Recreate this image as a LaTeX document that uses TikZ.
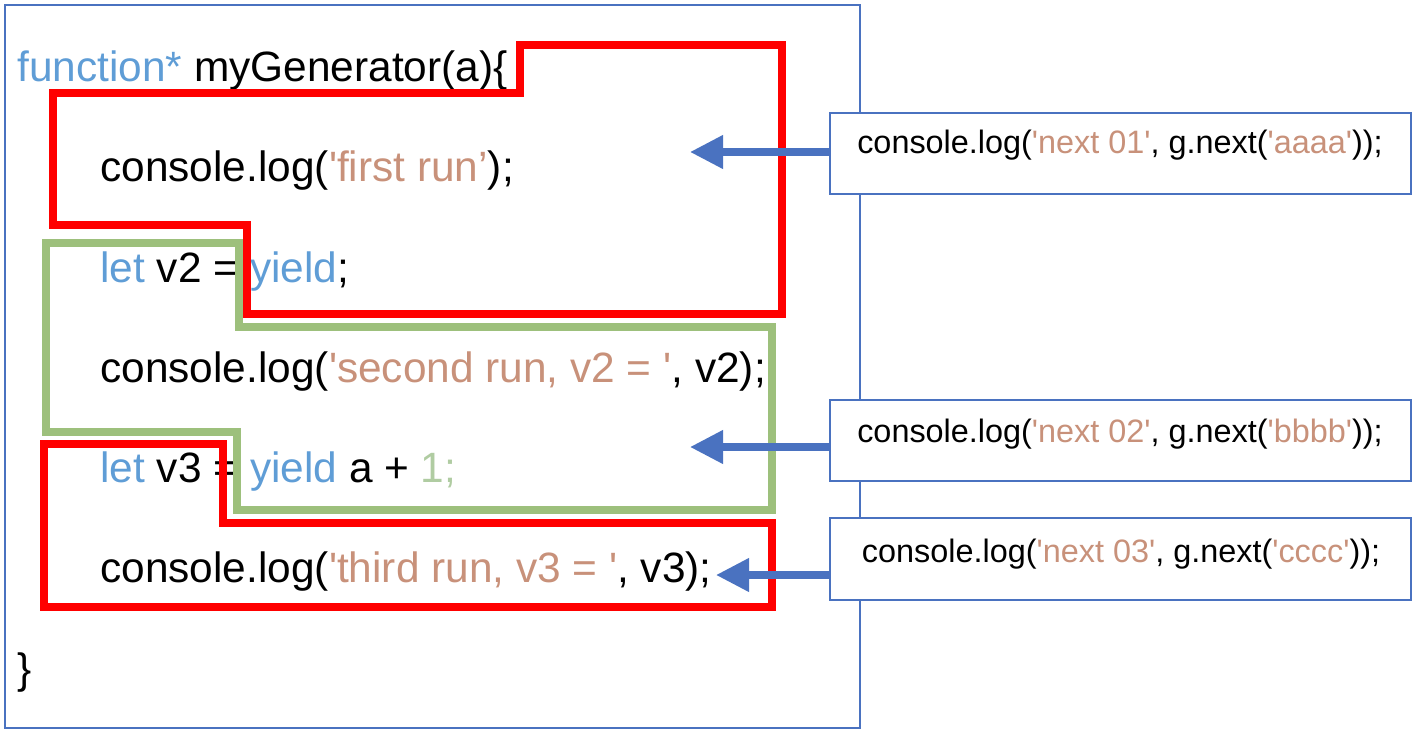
\documentclass[tikz,border=0pt]{standalone}
\usepackage{fontspec}
\newfontfamily\codefont{Liberation Sans}
\usetikzlibrary{arrows.meta}
\definecolor{kw}{HTML}{5F9DD6}
\definecolor{str}{HTML}{C8917A}
\definecolor{num}{HTML}{B0CCA2}
\definecolor{boxblue}{HTML}{4A72C0}
\definecolor{runred}{HTML}{FF0000}
\definecolor{rungreen}{HTML}{9DC07C}
\tikzset{
  codeline/.style={anchor=base west, inner sep=0pt, font=\codefont\fontsize{21.2pt}{25pt}\selectfont},
  calltext/.style={anchor=base, inner sep=0pt, font=\codefont\fontsize{16.2pt}{19pt}\selectfont},
  mainbox/.style={draw=boxblue, line width=1pt, inner sep=0pt, outer sep=0pt},
  callbox/.style={draw=boxblue, fill=white, line width=1.3pt, minimum width=290.5pt, inner sep=0pt, outer sep=0pt},
  redrun/.style={draw=runred, line width=3.6pt, line join=miter},
  greenrun/.style={draw=rungreen, line width=3.6pt, line join=miter},
  callarrow/.style={draw=boxblue, line width=3.6pt, -{Triangle[length=16.5pt, width=16pt]}},
}
\begin{document}
\begin{tikzpicture}[x=0.5pt, y=-0.5pt]
\useasboundingbox (0,0) rectangle (1424,738);
% main frame
\node[mainbox, minimum width=427.5pt, minimum height=361.5pt] (main) at (432.5,366.5) {};
% code lines
\node[codeline] (l0) at (17,82) {{\color{kw}function*} myGenerator(a)\{};
\node[codeline] (l1) at (100,182) {console.log({\color{str}'first run’});};
\node[codeline] (l2) at (100,282) {{\color{kw}let} v2 = {\color{kw}yield};};
\node[codeline] (l3) at (100,382) {console.log({\color{str}'second run, v2 = '}, v2);};
\node[codeline] (l4) at (100,482) {{\color{kw}let} v3 = {\color{kw}yield} a + {\color{num}1;}};
\node[codeline] (l5) at (100,582) {console.log({\color{str}'third run, v3 = '}, v3);};
\node[codeline] (l6) at (17,683) {\}};
% run regions
\draw[greenrun] (46,243) -- (239,243) -- (239,327) -- (772,327) -- (772,510) -- (237,510) -- (237,432) -- (46,432) -- cycle;
\draw[redrun] (520,45) -- (782,45) -- (782,314) -- (247,314) -- (247,225) -- (53,225) -- (53,93) -- (520,93) -- cycle;
\draw[redrun] (44,444) -- (223,444) -- (223,523) -- (772,523) -- (772,607) -- (44,607) -- cycle;
% call boxes
\node[callbox, minimum height=40.5pt] (n1) at (1120.5,153.5) {};
\node[callbox, minimum height=40.5pt] (n2) at (1120.5,440.5) {};
\node[callbox, minimum height=41pt] (n3) at (1120.5,559) {};
\node[calltext] (t1) at (1120,154) {console.log({\color{str}'next 01'}, g.next({\color{str}'aaaa'}));};
\node[calltext] (t2) at (1120,442) {console.log({\color{str}'next 02'}, g.next({\color{str}'bbbb'}));};
\node[calltext] (t3) at (1121,562) {console.log({\color{str}'next 03'}, g.next({\color{str}'cccc'}));};
% arrows
\coordinate (a1) at (690,152);
\coordinate (a2) at (690,447);
\coordinate (a3) at (716,575);
\draw[callarrow] (n1.west |- a1) -- (a1);
\draw[callarrow] (n2.west |- a2) -- (a2);
\draw[callarrow] (n3.west |- a3) -- (a3);
\end{tikzpicture}
\end{document}
